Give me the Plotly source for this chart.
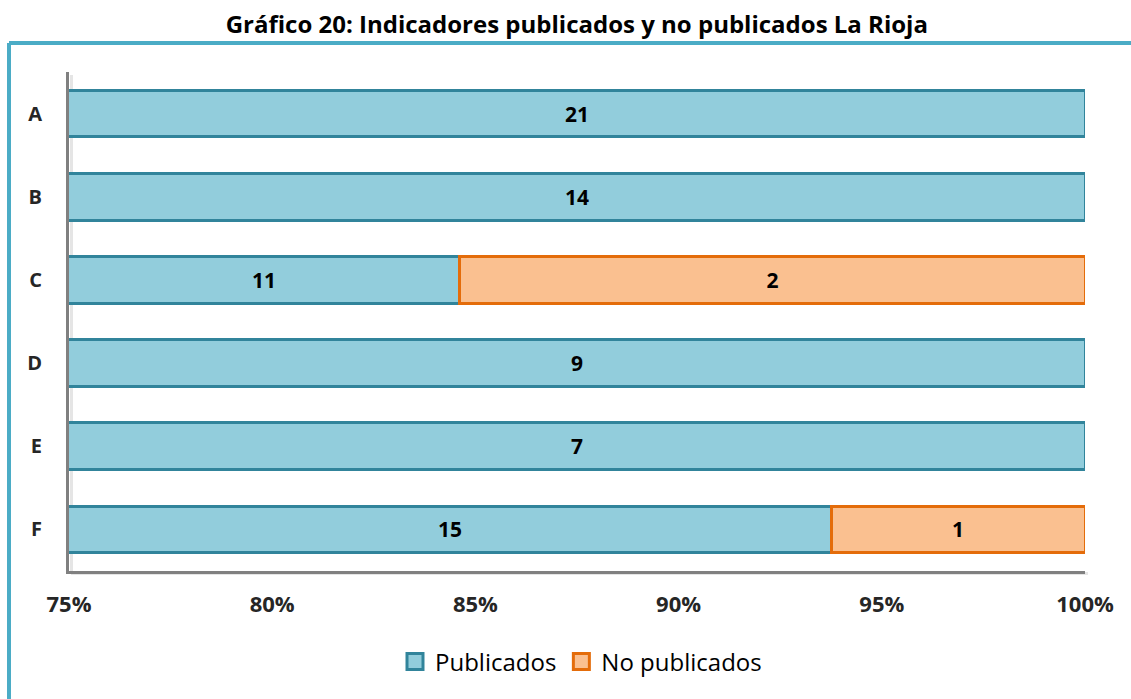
import plotly.graph_objects as go

categories = ["A", "B", "C", "D", "E", "F"]
publicados = [21, 14, 11, 9, 7, 15]
no_publicados = [0, 0, 2, 0, 0, 1]
tick_vals = [75, 80, 85, 90, 95, 100]
tick_text = ["75%", "80%", "85%", "90%", "95%", "100%"]
x_min, x_max = 75, 100

W, H = 1131, 699
L, R, T, B = 69, 46, 72, 128
pw, ph = W - L - R, H - T - B

def px_x(px):
    return (px - L) / pw

def px_y(py):
    return (H - B - py) / ph

def nz(v):
    return [x if x else None for x in v]

BLUE_FILL, BLUE_LINE = "#92CDDC", "#31849B"
ORANGE_FILL, ORANGE_LINE = "#FAC090", "#E46C0A"
LABEL_FONT = dict(family="Open Sans", size=21, color="black", weight="bold")

fig = go.Figure()
fig.add_trace(go.Bar(
    y=categories, x=nz(publicados), orientation="h", name="Publicados",
    marker=dict(color=BLUE_FILL, line=dict(color=BLUE_LINE, width=3)),
    width=0.56, showlegend=False,
))
fig.add_trace(go.Bar(
    y=categories, x=nz(no_publicados), orientation="h", name="No publicados",
    marker=dict(color=ORANGE_FILL, line=dict(color=ORANGE_LINE, width=3)),
    text=[str(v) if v else "" for v in no_publicados], texttemplate="%{text}",
    textposition="inside", insidetextanchor="middle",
    textfont=LABEL_FONT, width=0.56, showlegend=False,
))
# legend entries
fig.add_trace(go.Scatter(x=[None], y=[None], mode="markers", name="Publicados",
                         marker=dict(symbol="square", size=16, color=BLUE_FILL,
                                     line=dict(color=BLUE_LINE, width=3))))
fig.add_trace(go.Scatter(x=[None], y=[None], mode="markers", name="No publicados",
                         marker=dict(symbol="square", size=16, color=ORANGE_FILL,
                                     line=dict(color=ORANGE_LINE, width=3))))

# labels of the blue segments, centred on their visible part
annotations = []
for cat, p, n in zip(categories, publicados, no_publicados):
    pct = 100.0 * p / (p + n)
    annotations.append(dict(x=(x_min + pct) / 2, y=cat, xref="x", yref="y",
                            text=str(p), showarrow=False, font=LABEL_FONT))

shapes = [
    # frame
    dict(type="line", xref="paper", yref="paper", x0=px_x(9), x1=px_x(1140),
         y0=px_y(43), y1=px_y(43), line=dict(color="#4BACC6", width=4)),
    dict(type="line", xref="paper", yref="paper", x0=px_x(9), x1=px_x(9),
         y0=px_y(43), y1=px_y(710), line=dict(color="#4BACC6", width=4)),
    # axis shadows
    dict(type="line", xref="paper", yref="paper", x0=px_x(71), x1=px_x(1088),
         y0=px_y(573.5), y1=px_y(573.5), line=dict(color="rgba(0,0,0,0.10)", width=3),
         layer="below"),
    dict(type="line", xref="paper", yref="paper", x0=px_x(71.5), x1=px_x(71.5),
         y0=px_y(75), y1=px_y(574), line=dict(color="rgba(0,0,0,0.10)", width=3),
         layer="below"),
]

fig.update_layout(
    width=W, height=H,
    margin=dict(l=L, r=R, t=T, b=B),
    barmode="stack", barnorm="percent",
    plot_bgcolor="white", paper_bgcolor="white",
    title=dict(text="<b>Gráfico 20: Indicadores publicados y no publicados La Rioja</b>",
               x=0.51, xanchor="center", y=1 - 25 / H, yanchor="middle",
               font=dict(family="Open Sans", size=24, color="black")),
    xaxis=dict(range=[x_min, x_max], tickvals=tick_vals, ticktext=tick_text,
               showgrid=False, zeroline=False, showline=True, linecolor="#808080",
               linewidth=3, ticks="", ticklabelstandoff=12,
               tickfont=dict(family="Open Sans", size=22, color="#262626", weight="bold")),
    yaxis=dict(categoryorder="array", categoryarray=categories, autorange="reversed",
               showgrid=False, zeroline=False, showline=True, linecolor="#808080",
               linewidth=3, ticks="", ticklabelstandoff=20,
               tickfont=dict(family="Open Sans", size=20, color="#262626", weight="bold")),
    legend=dict(orientation="h", x=px_x(581), xanchor="center", y=px_y(662), yanchor="middle",
                font=dict(family="Open Sans", size=24, color="black"), traceorder="normal",
                itemwidth=30),
    shapes=shapes,
    annotations=annotations,
    showlegend=True,
)

fig.write_html("out.html", config={"displayModeBar": False},
               post_script="document.body.style.margin='0';")
